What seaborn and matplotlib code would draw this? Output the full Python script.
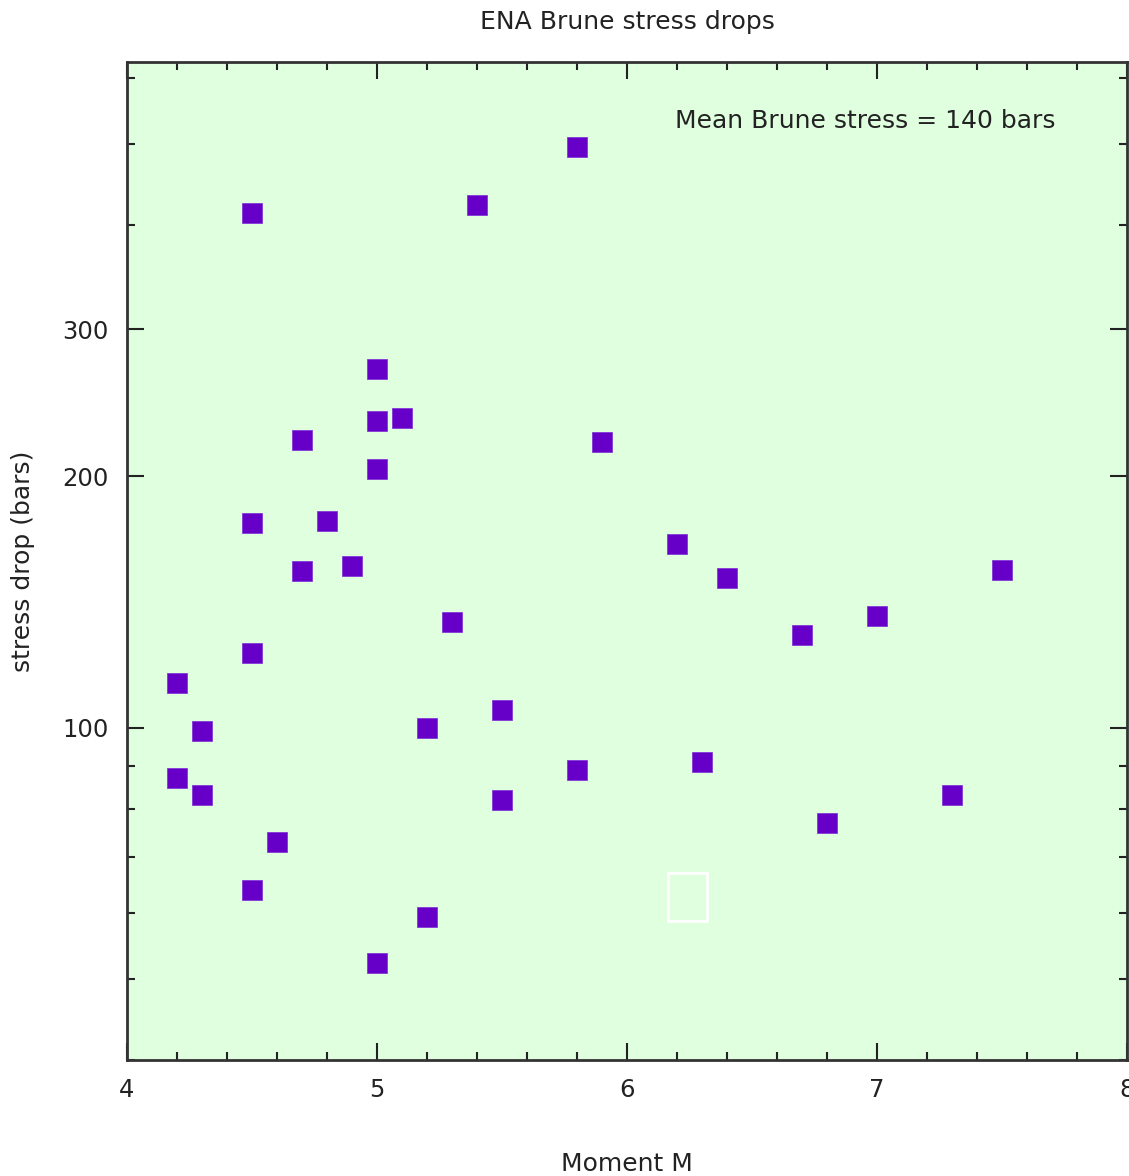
import numpy as np
import pandas as pd
import matplotlib
matplotlib.use("Agg")
import matplotlib.pyplot as plt
import seaborn as sns
from matplotlib.patches import Rectangle
from matplotlib.ticker import FixedLocator, FixedFormatter, NullFormatter, MultipleLocator

# values
magnitude = [4.5, 5.8, 5.4, 5.0, 5.0, 5.1, 4.7, 5.9, 5.0, 4.5, 4.8, 6.2,
             4.9, 4.7, 6.4, 7.5, 7.0, 5.3, 6.7, 4.5, 4.2, 4.3, 5.2, 5.5,
             4.2, 4.3, 5.5, 5.8, 6.3, 7.3, 6.8, 4.6, 4.5, 5.2, 5.0]
stress = [413, 496, 423, 269, 233, 235, 221, 220, 204, 176, 177, 166,
          156, 154, 151, 154.5, 136, 134, 129, 123, 113, 99, 100, 105,
          87, 83, 82, 89, 91, 83, 77, 73, 64, 59.3, 52.3]
major_y = [100, 200, 300]
minor_y = [40, 50, 60, 70, 80, 90, 400, 500, 600]

df = pd.DataFrame({"M": magnitude, "stress": stress})

sns.set_style("ticks")
plt.rcParams["font.family"] = ["DejaVu Sans"]

fig = plt.figure(figsize=(11.29, 11.76), dpi=100)
ax = fig.add_axes([0.1125, 0.0986, 0.8857, 0.8487])
ax.set_facecolor("#dfffdf")

sns.scatterplot(data=df, x="M", y="stress", marker="s", s=190,
                color="#6600c8", edgecolor="#7a2ad6", linewidth=0.5, ax=ax)

ax.set_yscale("log")
ax.set_xlim(4, 8)
ax.set_ylim(40, 627)
ax.xaxis.set_major_locator(MultipleLocator(1))
ax.xaxis.set_minor_locator(MultipleLocator(0.2))
ax.yaxis.set_major_locator(FixedLocator(major_y))
ax.yaxis.set_minor_locator(FixedLocator(minor_y))
ax.yaxis.set_major_formatter(FixedFormatter([str(v) for v in major_y]))
ax.yaxis.set_minor_formatter(NullFormatter())

ax.tick_params(which="both", direction="in", top=True, right=True,
               color="#222222", labelsize=17.5, labelcolor="#222222")
ax.tick_params(which="major", length=12, width=1.5, pad=13)
ax.tick_params(which="minor", length=6, width=1.5)
for sp in ax.spines.values():
    sp.set_color("#333333")
    sp.set_linewidth(2)

ax.set_xlabel("Moment M", fontsize=18, color="#222222", labelpad=36)
ax.set_ylabel("stress drop (bars)", fontsize=18, color="#222222", labelpad=20)
ax.set_title("ENA Brune stress drops", fontsize=18, color="#222222", pad=24)

ax.text(0.548, 0.941, "Mean Brune stress = 140 bars", transform=ax.transAxes,
        fontsize=18, color="#222222", va="center", ha="left")
ax.add_patch(Rectangle((0.541, 0.139), 0.039, 0.048, transform=ax.transAxes,
                       fill=False, edgecolor="white", linewidth=2))

fig.savefig("out.png", dpi=100)
